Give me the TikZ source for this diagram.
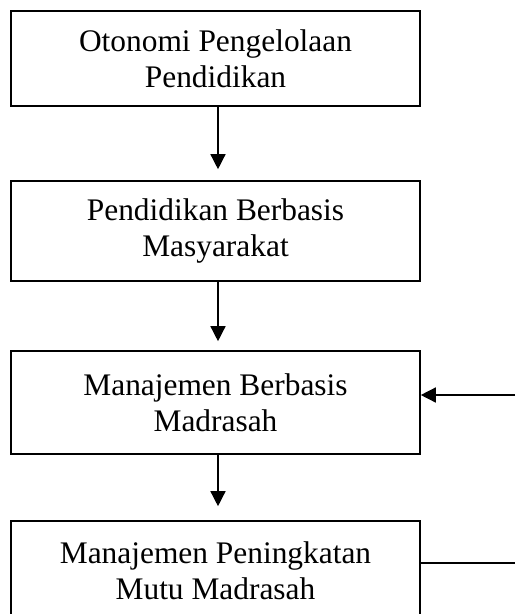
\documentclass[tikz,border=0pt]{standalone}
\usepackage{fontspec}
\setmainfont{Liberation Serif}
\usetikzlibrary{arrows.meta}
\begin{document}
\begin{tikzpicture}[x=1pt,y=1pt,
  boxnode/.style={draw, line width=1.6pt, minimum width=409pt, align=center, inner sep=0pt,
    font=\fontsize{31.4}{36}\selectfont},
  flow/.style={line width=1.4pt, -{Triangle[length=15pt,width=15pt]}}]
\useasboundingbox (0,0) rectangle (515,-614);
\node[boxnode, minimum height=95pt] (b1) at (215.5,-58.5) {Otonomi Pengelolaan\\Pendidikan};
\node[boxnode, minimum height=100pt] (b2) at (215.5,-231) {Pendidikan Berbasis\\Masyarakat};
\node[boxnode, minimum height=103pt] (b3) at (215.5,-402.5) {Manajemen Berbasis\\Madrasah};
\node[boxnode, minimum height=100pt] (b4) at (215.5,-571) {Manajemen Peningkatan\\Mutu Madrasah};
\draw[flow, shorten >=11pt] (b1.south -| 218,0) -- (b2.north -| 218,0);
\draw[flow, shorten >=9pt] (b2.south -| 218,0) -- (b3.north -| 218,0);
\draw[flow, shorten >=14pt] (b3.south -| 218,0) -- (b4.north -| 218,0);
\coordinate (r4) at (515,-563);
\coordinate (r3) at (515,-395);
\draw[line width=1.4pt] (b4.east |- r4) -- (r4);
\draw[flow] (r3) -- (b3.east |- r3);
\end{tikzpicture}
\end{document}
